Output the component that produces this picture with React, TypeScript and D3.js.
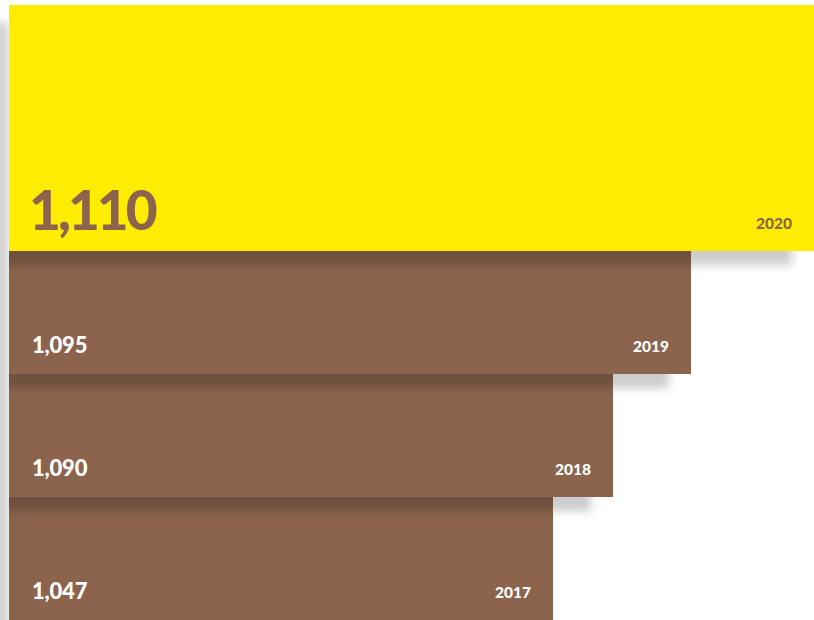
import React from "react";
import * as d3 from "d3";

const years = ["2020", "2019", "2018", "2017"];
const values = [1110, 1095, 1090, 1047];
const labels = ["1,110", "1,095", "1,090", "1,047"];

const W = 814;
const H = 620;
const LEFT = 9;
const TOP = 5;

const YELLOW = "#FFEC00";
const BROWN = "#8C644E";

export default function App() {
  // bar length scale (piecewise over the sorted values)
  const sorted = [...values].sort((a, b) => a - b);
  const x = d3.scaleLinear().domain(sorted).range([544, 604, 682, 805]);

  // vertical units: highlighted (first) row gets double height
  const units = years.map((_, i) => (i === 0 ? 2 : 1));
  const cum = [0];
  units.forEach((u) => cum.push(cum[cum.length - 1] + u));
  const y = d3.scaleLinear().domain([0, cum[cum.length - 1]]).range([TOP, H]);

  const rows = years.map((yr, i) => ({
    year: yr,
    value: values[i],
    label: labels[i],
    x0: LEFT,
    x1: LEFT + x(values[i]),
    y0: y(cum[i]),
    y1: y(cum[i + 1]),
    hi: i === 0,
  }));

  const font = "Lato, 'Open Sans', sans-serif";

  return (
    <svg
      width={W}
      height={H}
      style={{ position: "absolute", left: 0, top: 0, background: "#fff" }}
    >
      <defs>
        <filter id="blur" x="-50%" y="-50%" width="200%" height="200%">
          <feGaussianBlur stdDeviation="5" />
        </filter>
        <filter id="blurL" x="-50%" y="-50%" width="200%" height="200%">
          <feGaussianBlur stdDeviation="4" />
        </filter>
        <clipPath id="rightOfLeft">
          <rect x={LEFT} y={0} width={W} height={H} />
        </clipPath>
        <clipPath id="leftStrip">
          <rect x={0} y={0} width={LEFT} height={H} />
        </clipPath>
      </defs>

      <g clipPath="url(#leftStrip)">
        <rect
          x={-30}
          y={22}
          width={LEFT + 30}
          height={H + 40}
          fill="#000"
          opacity={0.17}
          filter="url(#blurL)"
        />
      </g>

      {[...rows].reverse().map((r) => (
        <g key={r.year}>
          {!(r.year === years[years.length - 1]) && (
            <g clipPath="url(#rightOfLeft)">
              <rect
                x={r.x0 - 20}
                y={r.y1 - 8}
                width={r.x1 - r.x0 - 2}
                height={22}
                fill="#000"
                opacity={0.2}
                filter="url(#blur)"
              />
            </g>
          )}
          <rect
            x={r.x0}
            y={r.y0}
            width={r.x1 - r.x0}
            height={r.y1 - r.y0}
            fill={r.hi ? YELLOW : BROWN}
          />
        </g>
      ))}

      {rows.map((r) => (
        <g key={"t" + r.year} fontFamily={font} fontWeight={900}>
          <text
            x={r.hi ? 29 : 32}
            y={r.y1 - 21}
            fontSize={r.hi ? 55 : 22}
            letterSpacing={r.hi ? -3 : -0.2}
            fill={r.hi ? BROWN : "#fff"}
          >
            {r.label}
          </text>
          <text
            x={r.x1 - 22}
            y={r.y1 - 22}
            fontSize={15.5}
            textAnchor="end"
            fill={r.hi ? BROWN : "#fff"}
          >
            {r.year}
          </text>
        </g>
      ))}
    </svg>
  );
}
